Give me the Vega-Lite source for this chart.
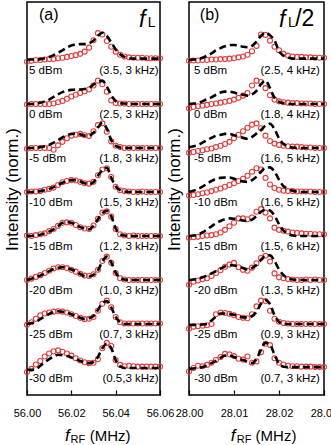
{
"$schema":"https://vega.github.io/schema/vega-lite/v6.json",
"padding":{"left":2,"top":1,"right":0,"bottom":0},
"background":"white",
"bounds":"flush",
"spacing":29,
"config":{
 "font":"Liberation Sans",
 "view":{"stroke":"black","strokeWidth":1.5},
 "axis":{"grid":false,"domain":false,"labelColor":"black","titleColor":"black","tickColor":"black"},
 "axisX":{"tickSize":-5,"tickWidth":1.2,"labelFontSize":11,"labelPadding":17,"labelFlush":false,"labelOverlap":false},
 "axisY":{"ticks":false,"labels":false,"titleFontSize":17,"titleFontWeight":"normal","titlePadding":6,"titleY":187}
},
"datasets":{
"a":[
{"t":1,"x":56,"d":6.96,"f":7.01},{"t":1,"x":56.002,"d":6.98,"f":7.01},{"t":1,"x":56.004,"d":7,"f":7.01},{"t":1,"x":56.006,"d":7,"f":7.02},{"t":1,"x":56.008,"d":7.01,"f":7.04},{"t":1,"x":56.01,"d":7.02,"f":7.07},{"t":1,"x":56.012,"d":7.02,"f":7.11},{"t":1,"x":56.014,"d":7.04,"f":7.16},{"t":1,"x":56.016,"d":7.05,"f":7.22},{"t":1,"x":56.018,"d":7.07,"f":7.28},{"t":1,"x":56.02,"d":7.09,"f":7.33},{"t":1,"x":56.022,"d":7.11,"f":7.35},{"t":1,"x":56.024,"d":7.14,"f":7.36},{"t":1,"x":56.026,"d":7.19,"f":7.36},{"t":1,"x":56.028,"d":7.28,"f":7.38},{"t":1,"x":56.03,"d":7.45,"f":7.44},{"t":1,"x":56.032,"d":7.61,"f":7.55},{"t":1,"x":56.034,"d":7.58,"f":7.62},{"t":1,"x":56.036,"d":7.43,"f":7.55},{"t":1,"x":56.038,"d":7.3,"f":7.4},{"t":1,"x":56.04,"d":7.19,"f":7.24},{"t":1,"x":56.042,"d":7.12,"f":7.13},{"t":1,"x":56.044,"d":7.08,"f":7.07},{"t":1,"x":56.046,"d":7.06,"f":7.04},{"t":1,"x":56.048,"d":7.05,"f":7.03},{"t":1,"x":56.05,"d":7.05,"f":7.03},{"t":1,"x":56.052,"d":7.05,"f":7.03},{"t":1,"x":56.054,"d":7.04,"f":7.03},{"t":1,"x":56.056,"d":7.04,"f":7.03},{"t":1,"x":56.058,"d":7.04,"f":7.03},{"t":1,"x":56.06,"d":7.04,"f":7.03},
{"t":2,"x":56,"d":5.99,"f":6},{"t":2,"x":56.002,"d":6,"f":6},{"t":2,"x":56.004,"d":6,"f":6.01},{"t":2,"x":56.006,"d":6,"f":6.03},{"t":2,"x":56.008,"d":6,"f":6.06},{"t":2,"x":56.01,"d":6,"f":6.1},{"t":2,"x":56.012,"d":6.01,"f":6.16},{"t":2,"x":56.014,"d":6.04,"f":6.22},{"t":2,"x":56.016,"d":6.07,"f":6.27},{"t":2,"x":56.018,"d":6.12,"f":6.3},{"t":2,"x":56.02,"d":6.17,"f":6.32},{"t":2,"x":56.022,"d":6.21,"f":6.33},{"t":2,"x":56.024,"d":6.25,"f":6.33},{"t":2,"x":56.026,"d":6.29,"f":6.34},{"t":2,"x":56.028,"d":6.33,"f":6.37},{"t":2,"x":56.03,"d":6.42,"f":6.44},{"t":2,"x":56.032,"d":6.53,"f":6.5},{"t":2,"x":56.034,"d":6.45,"f":6.53},{"t":2,"x":56.036,"d":6.28,"f":6.4},{"t":2,"x":56.038,"d":6.08,"f":6.2},{"t":2,"x":56.04,"d":6.02,"f":6.07},{"t":2,"x":56.042,"d":6.01,"f":6.02},{"t":2,"x":56.044,"d":6.01,"f":6.01},{"t":2,"x":56.046,"d":6,"f":6},{"t":2,"x":56.048,"d":6,"f":6},{"t":2,"x":56.05,"d":6,"f":6},{"t":2,"x":56.052,"d":6,"f":6},{"t":2,"x":56.054,"d":6,"f":6},{"t":2,"x":56.056,"d":6,"f":6},{"t":2,"x":56.058,"d":6,"f":6},{"t":2,"x":56.06,"d":6,"f":6},
{"t":3,"x":56,"d":4.98,"f":5},{"t":3,"x":56.002,"d":5,"f":5},{"t":3,"x":56.004,"d":5,"f":5.01},{"t":3,"x":56.006,"d":5,"f":5.02},{"t":3,"x":56.008,"d":5,"f":5.04},{"t":3,"x":56.01,"d":5,"f":5.07},{"t":3,"x":56.012,"d":4.96,"f":5.12},{"t":3,"x":56.014,"d":5.06,"f":5.18},{"t":3,"x":56.016,"d":5.14,"f":5.24},{"t":3,"x":56.018,"d":5.22,"f":5.29},{"t":3,"x":56.02,"d":5.28,"f":5.32},{"t":3,"x":56.022,"d":5.3,"f":5.33},{"t":3,"x":56.024,"d":5.32,"f":5.31},{"t":3,"x":56.026,"d":5.29,"f":5.28},{"t":3,"x":56.028,"d":5.27,"f":5.28},{"t":3,"x":56.03,"d":5.38,"f":5.35},{"t":3,"x":56.032,"d":5.52,"f":5.47},{"t":3,"x":56.034,"d":5.56,"f":5.57},{"t":3,"x":56.036,"d":5.37,"f":5.44},{"t":3,"x":56.038,"d":5.15,"f":5.18},{"t":3,"x":56.04,"d":5.05,"f":5.05},{"t":3,"x":56.042,"d":5.02,"f":5.01},{"t":3,"x":56.044,"d":5,"f":5},{"t":3,"x":56.046,"d":5,"f":5},{"t":3,"x":56.048,"d":5,"f":5},{"t":3,"x":56.05,"d":5,"f":5},{"t":3,"x":56.052,"d":5,"f":5},{"t":3,"x":56.054,"d":5,"f":5},{"t":3,"x":56.056,"d":5,"f":5},{"t":3,"x":56.058,"d":5,"f":5},{"t":3,"x":56.06,"d":5,"f":5},
{"t":4,"x":56,"d":4,"f":4},{"t":4,"x":56.002,"d":4.01,"f":4},{"t":4,"x":56.004,"d":4.01,"f":4.01},{"t":4,"x":56.006,"d":4.02,"f":4.02},{"t":4,"x":56.008,"d":4.05,"f":4.04},{"t":4,"x":56.01,"d":4.07,"f":4.07},{"t":4,"x":56.012,"d":4.1,"f":4.11},{"t":4,"x":56.014,"d":4.16,"f":4.16},{"t":4,"x":56.016,"d":4.22,"f":4.21},{"t":4,"x":56.018,"d":4.25,"f":4.25},{"t":4,"x":56.02,"d":4.27,"f":4.27},{"t":4,"x":56.022,"d":4.26,"f":4.27},{"t":4,"x":56.024,"d":4.23,"f":4.24},{"t":4,"x":56.026,"d":4.2,"f":4.2},{"t":4,"x":56.028,"d":4.19,"f":4.18},{"t":4,"x":56.03,"d":4.23,"f":4.22},{"t":4,"x":56.032,"d":4.38,"f":4.37},{"t":4,"x":56.034,"d":4.51,"f":4.5},{"t":4,"x":56.036,"d":4.54,"f":4.55},{"t":4,"x":56.038,"d":4.34,"f":4.33},{"t":4,"x":56.04,"d":4.12,"f":4.13},{"t":4,"x":56.042,"d":4.04,"f":4.04},{"t":4,"x":56.044,"d":4.02,"f":4.01},{"t":4,"x":56.046,"d":4.01,"f":4},{"t":4,"x":56.048,"d":4,"f":4},{"t":4,"x":56.05,"d":4,"f":4},{"t":4,"x":56.052,"d":4.01,"f":4},{"t":4,"x":56.054,"d":4,"f":4},{"t":4,"x":56.056,"d":4,"f":4},{"t":4,"x":56.058,"d":4,"f":4},{"t":4,"x":56.06,"d":4,"f":4},
{"t":5,"x":56,"d":3.01,"f":3},{"t":5,"x":56.002,"d":3,"f":3},{"t":5,"x":56.004,"d":3.02,"f":3.02},{"t":5,"x":56.006,"d":3.04,"f":3.03},{"t":5,"x":56.008,"d":3.06,"f":3.06},{"t":5,"x":56.01,"d":3.11,"f":3.1},{"t":5,"x":56.012,"d":3.16,"f":3.15},{"t":5,"x":56.014,"d":3.23,"f":3.22},{"t":5,"x":56.016,"d":3.3,"f":3.3},{"t":5,"x":56.018,"d":3.31,"f":3.32},{"t":5,"x":56.02,"d":3.3,"f":3.3},{"t":5,"x":56.022,"d":3.25,"f":3.26},{"t":5,"x":56.024,"d":3.2,"f":3.2},{"t":5,"x":56.026,"d":3.17,"f":3.17},{"t":5,"x":56.028,"d":3.16,"f":3.15},{"t":5,"x":56.03,"d":3.24,"f":3.23},{"t":5,"x":56.032,"d":3.39,"f":3.38},{"t":5,"x":56.034,"d":3.53,"f":3.52},{"t":5,"x":56.036,"d":3.56,"f":3.57},{"t":5,"x":56.038,"d":3.44,"f":3.45},{"t":5,"x":56.04,"d":3.16,"f":3.17},{"t":5,"x":56.042,"d":3.04,"f":3.04},{"t":5,"x":56.044,"d":3.01,"f":3.01},{"t":5,"x":56.046,"d":3,"f":3},{"t":5,"x":56.048,"d":3.01,"f":3},{"t":5,"x":56.05,"d":3,"f":3},{"t":5,"x":56.052,"d":3,"f":3},{"t":5,"x":56.054,"d":3,"f":3},{"t":5,"x":56.056,"d":3,"f":3},{"t":5,"x":56.058,"d":3,"f":3},{"t":5,"x":56.06,"d":3,"f":3},
{"t":6,"x":56,"d":2,"f":2},{"t":6,"x":56.002,"d":2.03,"f":2.03},{"t":6,"x":56.004,"d":2.07,"f":2.06},{"t":6,"x":56.006,"d":2.11,"f":2.1},{"t":6,"x":56.008,"d":2.16,"f":2.15},{"t":6,"x":56.01,"d":2.21,"f":2.2},{"t":6,"x":56.012,"d":2.26,"f":2.25},{"t":6,"x":56.014,"d":2.29,"f":2.28},{"t":6,"x":56.016,"d":2.29,"f":2.29},{"t":6,"x":56.018,"d":2.27,"f":2.27},{"t":6,"x":56.02,"d":2.23,"f":2.24},{"t":6,"x":56.022,"d":2.19,"f":2.2},{"t":6,"x":56.024,"d":2.14,"f":2.14},{"t":6,"x":56.026,"d":2.1,"f":2.09},{"t":6,"x":56.028,"d":2.09,"f":2.08},{"t":6,"x":56.03,"d":2.13,"f":2.12},{"t":6,"x":56.032,"d":2.23,"f":2.22},{"t":6,"x":56.034,"d":2.43,"f":2.42},{"t":6,"x":56.036,"d":2.53,"f":2.53},{"t":6,"x":56.038,"d":2.39,"f":2.4},{"t":6,"x":56.04,"d":2.16,"f":2.17},{"t":6,"x":56.042,"d":2.04,"f":2.04},{"t":6,"x":56.044,"d":2.01,"f":2.01},{"t":6,"x":56.046,"d":2,"f":2},{"t":6,"x":56.048,"d":2,"f":2},{"t":6,"x":56.05,"d":2,"f":2},{"t":6,"x":56.052,"d":2,"f":2},{"t":6,"x":56.054,"d":2,"f":2},{"t":6,"x":56.056,"d":2,"f":2},{"t":6,"x":56.058,"d":2,"f":2},{"t":6,"x":56.06,"d":2,"f":2},
{"t":7,"x":56,"d":0.98,"f":1},{"t":7,"x":56.002,"d":1.04,"f":1.02},{"t":7,"x":56.004,"d":1.12,"f":1.05},{"t":7,"x":56.006,"d":1.2,"f":1.11},{"t":7,"x":56.008,"d":1.24,"f":1.17},{"t":7,"x":56.01,"d":1.26,"f":1.23},{"t":7,"x":56.012,"d":1.28,"f":1.27},{"t":7,"x":56.014,"d":1.29,"f":1.29},{"t":7,"x":56.016,"d":1.28,"f":1.28},{"t":7,"x":56.018,"d":1.26,"f":1.26},{"t":7,"x":56.02,"d":1.22,"f":1.22},{"t":7,"x":56.022,"d":1.18,"f":1.18},{"t":7,"x":56.024,"d":1.14,"f":1.14},{"t":7,"x":56.026,"d":1.11,"f":1.11},{"t":7,"x":56.028,"d":1.12,"f":1.13},{"t":7,"x":56.03,"d":1.16,"f":1.18},{"t":7,"x":56.032,"d":1.3,"f":1.32},{"t":7,"x":56.034,"d":1.46,"f":1.47},{"t":7,"x":56.036,"d":1.53,"f":1.52},{"t":7,"x":56.038,"d":1.38,"f":1.38},{"t":7,"x":56.04,"d":1.16,"f":1.16},{"t":7,"x":56.042,"d":1.04,"f":1.04},{"t":7,"x":56.044,"d":1.01,"f":1},{"t":7,"x":56.046,"d":1.01,"f":1},{"t":7,"x":56.048,"d":1.01,"f":1},{"t":7,"x":56.05,"d":1.01,"f":1},{"t":7,"x":56.052,"d":1.01,"f":1},{"t":7,"x":56.054,"d":1.01,"f":1},{"t":7,"x":56.056,"d":1.01,"f":1},{"t":7,"x":56.058,"d":1.01,"f":1},{"t":7,"x":56.06,"d":1.01,"f":1},
{"t":8,"x":56,"d":-0.09,"f":-0.04},{"t":8,"x":56.002,"d":-0.02,"f":-0.04},{"t":8,"x":56.004,"d":0.08,"f":-0.03},{"t":8,"x":56.006,"d":0.16,"f":0.05},{"t":8,"x":56.008,"d":0.26,"f":0.13},{"t":8,"x":56.01,"d":0.33,"f":0.2},{"t":8,"x":56.012,"d":0.38,"f":0.26},{"t":8,"x":56.014,"d":0.4,"f":0.3},{"t":8,"x":56.016,"d":0.37,"f":0.29},{"t":8,"x":56.018,"d":0.33,"f":0.27},{"t":8,"x":56.02,"d":0.28,"f":0.24},{"t":8,"x":56.022,"d":0.22,"f":0.2},{"t":8,"x":56.024,"d":0.17,"f":0.16},{"t":8,"x":56.026,"d":0.13,"f":0.13},{"t":8,"x":56.028,"d":0.11,"f":0.11},{"t":8,"x":56.03,"d":0.12,"f":0.14},{"t":8,"x":56.032,"d":0.2,"f":0.25},{"t":8,"x":56.034,"d":0.45,"f":0.45},{"t":8,"x":56.036,"d":0.57,"f":0.55},{"t":8,"x":56.038,"d":0.5,"f":0.45},{"t":8,"x":56.04,"d":0.18,"f":0.18},{"t":8,"x":56.042,"d":0.07,"f":0.04},{"t":8,"x":56.044,"d":0.04,"f":0},{"t":8,"x":56.046,"d":0.05,"f":0},{"t":8,"x":56.048,"d":0.04,"f":0},{"t":8,"x":56.05,"d":0.03,"f":0},{"t":8,"x":56.052,"d":0.03,"f":0},{"t":8,"x":56.054,"d":0.03,"f":0},{"t":8,"x":56.056,"d":0.03,"f":0},{"t":8,"x":56.058,"d":0.03,"f":0},{"t":8,"x":56.06,"d":0.03,"f":0}
],
"b":[
{"t":1,"x":28,"d":6.98,"f":7},{"t":1,"x":28.001,"d":6.99,"f":7.01},{"t":1,"x":28.002,"d":6.99,"f":7.02},{"t":1,"x":28.003,"d":7,"f":7.05},{"t":1,"x":28.004,"d":7,"f":7.1},{"t":1,"x":28.005,"d":7.01,"f":7.15},{"t":1,"x":28.006,"d":7.01,"f":7.22},{"t":1,"x":28.007,"d":7.02,"f":7.27},{"t":1,"x":28.008,"d":7.02,"f":7.31},{"t":1,"x":28.009,"d":7.03,"f":7.34},{"t":1,"x":28.01,"d":7.04,"f":7.34},{"t":1,"x":28.011,"d":7.06,"f":7.33},{"t":1,"x":28.012,"d":7.08,"f":7.3},{"t":1,"x":28.013,"d":7.12,"f":7.29},{"t":1,"x":28.014,"d":7.2,"f":7.32},{"t":1,"x":28.015,"d":7.32,"f":7.42},{"t":1,"x":28.016,"d":7.58,"f":7.55},{"t":1,"x":28.017,"d":7.57,"f":7.62},{"t":1,"x":28.018,"d":7.44,"f":7.56},{"t":1,"x":28.019,"d":7.3,"f":7.45},{"t":1,"x":28.02,"d":7.22,"f":7.2},{"t":1,"x":28.021,"d":7.14,"f":7.1},{"t":1,"x":28.022,"d":7.1,"f":7.06},{"t":1,"x":28.023,"d":7.08,"f":7.03},{"t":1,"x":28.024,"d":7.07,"f":7.03},{"t":1,"x":28.025,"d":7.07,"f":7.03},{"t":1,"x":28.026,"d":7.06,"f":7.03},{"t":1,"x":28.027,"d":7.06,"f":7.03},{"t":1,"x":28.028,"d":7.05,"f":7.03},{"t":1,"x":28.029,"d":7.05,"f":7.03},{"t":1,"x":28.03,"d":7.05,"f":7.03},
{"t":2,"x":28,"d":5.9,"f":6},{"t":2,"x":28.001,"d":5.93,"f":6.01},{"t":2,"x":28.002,"d":5.95,"f":6.02},{"t":2,"x":28.003,"d":5.96,"f":6.06},{"t":2,"x":28.004,"d":5.98,"f":6.11},{"t":2,"x":28.005,"d":6,"f":6.15},{"t":2,"x":28.006,"d":6.01,"f":6.21},{"t":2,"x":28.007,"d":6.03,"f":6.26},{"t":2,"x":28.008,"d":6.05,"f":6.28},{"t":2,"x":28.009,"d":6.07,"f":6.28},{"t":2,"x":28.01,"d":6.1,"f":6.26},{"t":2,"x":28.011,"d":6.14,"f":6.23},{"t":2,"x":28.012,"d":6.19,"f":6.21},{"t":2,"x":28.013,"d":6.25,"f":6.19},{"t":2,"x":28.014,"d":6.42,"f":6.22},{"t":2,"x":28.015,"d":6.53,"f":6.3},{"t":2,"x":28.016,"d":6.5,"f":6.45},{"t":2,"x":28.017,"d":6.36,"f":6.53},{"t":2,"x":28.018,"d":6.2,"f":6.36},{"t":2,"x":28.019,"d":6.1,"f":6.14},{"t":2,"x":28.02,"d":6.06,"f":6.05},{"t":2,"x":28.021,"d":6.04,"f":6.02},{"t":2,"x":28.022,"d":6.03,"f":6},{"t":2,"x":28.023,"d":6.02,"f":6},{"t":2,"x":28.024,"d":6.02,"f":6},{"t":2,"x":28.025,"d":6.01,"f":6},{"t":2,"x":28.026,"d":6.01,"f":6},{"t":2,"x":28.027,"d":6.01,"f":6},{"t":2,"x":28.028,"d":6,"f":6},{"t":2,"x":28.029,"d":6,"f":6},{"t":2,"x":28.03,"d":6,"f":6},
{"t":3,"x":28,"d":4.89,"f":5.02},{"t":3,"x":28.001,"d":4.91,"f":5.04},{"t":3,"x":28.002,"d":4.93,"f":5.07},{"t":3,"x":28.003,"d":4.95,"f":5.12},{"t":3,"x":28.004,"d":4.97,"f":5.18},{"t":3,"x":28.005,"d":4.99,"f":5.23},{"t":3,"x":28.006,"d":5.02,"f":5.28},{"t":3,"x":28.007,"d":5.05,"f":5.3},{"t":3,"x":28.008,"d":5.09,"f":5.32},{"t":3,"x":28.009,"d":5.14,"f":5.32},{"t":3,"x":28.01,"d":5.22,"f":5.29},{"t":3,"x":28.011,"d":5.3,"f":5.26},{"t":3,"x":28.012,"d":5.38,"f":5.23},{"t":3,"x":28.013,"d":5.46,"f":5.21},{"t":3,"x":28.014,"d":5.53,"f":5.25},{"t":3,"x":28.015,"d":5.56,"f":5.33},{"t":3,"x":28.016,"d":5.45,"f":5.41},{"t":3,"x":28.017,"d":5.28,"f":5.51},{"t":3,"x":28.018,"d":5.16,"f":5.55},{"t":3,"x":28.019,"d":5.1,"f":5.43},{"t":3,"x":28.02,"d":5.07,"f":5.22},{"t":3,"x":28.021,"d":5.05,"f":5.09},{"t":3,"x":28.022,"d":5.04,"f":5.04},{"t":3,"x":28.023,"d":5.03,"f":5.01},{"t":3,"x":28.024,"d":5.03,"f":5},{"t":3,"x":28.025,"d":5.02,"f":5},{"t":3,"x":28.026,"d":5.01,"f":5},{"t":3,"x":28.027,"d":5.01,"f":5},{"t":3,"x":28.028,"d":5,"f":5},{"t":3,"x":28.029,"d":5,"f":5},{"t":3,"x":28.03,"d":5,"f":5},
{"t":4,"x":28,"d":3.92,"f":4},{"t":4,"x":28.001,"d":3.93,"f":4.03},{"t":4,"x":28.002,"d":3.95,"f":4.07},{"t":4,"x":28.003,"d":3.97,"f":4.12},{"t":4,"x":28.004,"d":3.99,"f":4.19},{"t":4,"x":28.005,"d":4.02,"f":4.25},{"t":4,"x":28.006,"d":4.05,"f":4.3},{"t":4,"x":28.007,"d":4.08,"f":4.32},{"t":4,"x":28.008,"d":4.12,"f":4.33},{"t":4,"x":28.009,"d":4.16,"f":4.33},{"t":4,"x":28.01,"d":4.2,"f":4.3},{"t":4,"x":28.011,"d":4.25,"f":4.27},{"t":4,"x":28.012,"d":4.3,"f":4.24},{"t":4,"x":28.013,"d":4.37,"f":4.23},{"t":4,"x":28.014,"d":4.46,"f":4.27},{"t":4,"x":28.015,"d":4.54,"f":4.35},{"t":4,"x":28.016,"d":4.51,"f":4.46},{"t":4,"x":28.017,"d":4.32,"f":4.55},{"t":4,"x":28.018,"d":4.17,"f":4.56},{"t":4,"x":28.019,"d":4.09,"f":4.46},{"t":4,"x":28.02,"d":4.05,"f":4.28},{"t":4,"x":28.021,"d":4.03,"f":4.13},{"t":4,"x":28.022,"d":4.02,"f":4.08},{"t":4,"x":28.023,"d":4.02,"f":4.03},{"t":4,"x":28.024,"d":4.01,"f":4.01},{"t":4,"x":28.025,"d":4.01,"f":4},{"t":4,"x":28.026,"d":4.01,"f":4},{"t":4,"x":28.027,"d":4.01,"f":4},{"t":4,"x":28.028,"d":4,"f":4},{"t":4,"x":28.029,"d":4,"f":4},{"t":4,"x":28.03,"d":4,"f":4},
{"t":5,"x":28,"d":2.96,"f":3},{"t":5,"x":28.001,"d":2.97,"f":3.01},{"t":5,"x":28.002,"d":2.98,"f":3.03},{"t":5,"x":28.003,"d":3,"f":3.08},{"t":5,"x":28.004,"d":3.01,"f":3.15},{"t":5,"x":28.005,"d":3.02,"f":3.22},{"t":5,"x":28.006,"d":3.04,"f":3.29},{"t":5,"x":28.007,"d":3.08,"f":3.34},{"t":5,"x":28.008,"d":3.14,"f":3.38},{"t":5,"x":28.009,"d":3.22,"f":3.4},{"t":5,"x":28.01,"d":3.3,"f":3.39},{"t":5,"x":28.011,"d":3.4,"f":3.37},{"t":5,"x":28.012,"d":3.4,"f":3.35},{"t":5,"x":28.013,"d":3.38,"f":3.34},{"t":5,"x":28.014,"d":3.42,"f":3.37},{"t":5,"x":28.015,"d":3.55,"f":3.45},{"t":5,"x":28.016,"d":3.61,"f":3.55},{"t":5,"x":28.017,"d":3.53,"f":3.6},{"t":5,"x":28.018,"d":3.4,"f":3.58},{"t":5,"x":28.019,"d":3.19,"f":3.46},{"t":5,"x":28.02,"d":3.14,"f":3.27},{"t":5,"x":28.021,"d":3.12,"f":3.12},{"t":5,"x":28.022,"d":3.1,"f":3.05},{"t":5,"x":28.023,"d":3.08,"f":3.01},{"t":5,"x":28.024,"d":3.07,"f":3},{"t":5,"x":28.025,"d":3.06,"f":3},{"t":5,"x":28.026,"d":3.05,"f":3},{"t":5,"x":28.027,"d":3.05,"f":3},{"t":5,"x":28.028,"d":3.04,"f":3},{"t":5,"x":28.029,"d":3.04,"f":3},{"t":5,"x":28.03,"d":3.04,"f":3},
{"t":6,"x":28,"d":1.89,"f":2},{"t":6,"x":28.001,"d":1.96,"f":2.01},{"t":6,"x":28.002,"d":1.99,"f":2.03},{"t":6,"x":28.003,"d":2.02,"f":2.06},{"t":6,"x":28.004,"d":2.04,"f":2.1},{"t":6,"x":28.005,"d":2.09,"f":2.15},{"t":6,"x":28.006,"d":2.16,"f":2.2},{"t":6,"x":28.007,"d":2.22,"f":2.26},{"t":6,"x":28.008,"d":2.3,"f":2.31},{"t":6,"x":28.009,"d":2.35,"f":2.34},{"t":6,"x":28.01,"d":2.39,"f":2.33},{"t":6,"x":28.011,"d":2.29,"f":2.31},{"t":6,"x":28.012,"d":2.23,"f":2.27},{"t":6,"x":28.013,"d":2.21,"f":2.24},{"t":6,"x":28.014,"d":2.28,"f":2.27},{"t":6,"x":28.015,"d":2.38,"f":2.34},{"t":6,"x":28.016,"d":2.5,"f":2.46},{"t":6,"x":28.017,"d":2.55,"f":2.55},{"t":6,"x":28.018,"d":2.42,"f":2.56},{"t":6,"x":28.019,"d":2.15,"f":2.43},{"t":6,"x":28.02,"d":2.06,"f":2.24},{"t":6,"x":28.021,"d":2.04,"f":2.11},{"t":6,"x":28.022,"d":2.02,"f":2.04},{"t":6,"x":28.023,"d":2.01,"f":2.01},{"t":6,"x":28.024,"d":2,"f":2},{"t":6,"x":28.025,"d":2,"f":2},{"t":6,"x":28.026,"d":2.01,"f":2},{"t":6,"x":28.027,"d":2,"f":2},{"t":6,"x":28.028,"d":2.01,"f":2},{"t":6,"x":28.029,"d":2,"f":2},{"t":6,"x":28.03,"d":2,"f":2},
{"t":7,"x":28,"d":0.89,"f":0.98},{"t":7,"x":28.001,"d":0.94,"f":0.98},{"t":7,"x":28.002,"d":0.95,"f":0.98},{"t":7,"x":28.003,"d":0.96,"f":0.99},{"t":7,"x":28.004,"d":0.97,"f":1},{"t":7,"x":28.005,"d":1,"f":1.08},{"t":7,"x":28.006,"d":1.22,"f":1.17},{"t":7,"x":28.007,"d":1.26,"f":1.24},{"t":7,"x":28.008,"d":1.25,"f":1.24},{"t":7,"x":28.009,"d":1.23,"f":1.23},{"t":7,"x":28.01,"d":1.2,"f":1.21},{"t":7,"x":28.011,"d":1.16,"f":1.18},{"t":7,"x":28.012,"d":1.14,"f":1.15},{"t":7,"x":28.013,"d":1.13,"f":1.15},{"t":7,"x":28.014,"d":1.22,"f":1.18},{"t":7,"x":28.015,"d":1.4,"f":1.28},{"t":7,"x":28.016,"d":1.53,"f":1.46},{"t":7,"x":28.017,"d":1.52,"f":1.54},{"t":7,"x":28.018,"d":1.3,"f":1.45},{"t":7,"x":28.019,"d":1.12,"f":1.2},{"t":7,"x":28.02,"d":1.05,"f":1.05},{"t":7,"x":28.021,"d":1.02,"f":1},{"t":7,"x":28.022,"d":1.01,"f":1},{"t":7,"x":28.023,"d":1,"f":1},{"t":7,"x":28.024,"d":1,"f":1},{"t":7,"x":28.025,"d":1,"f":1},{"t":7,"x":28.026,"d":1,"f":1},{"t":7,"x":28.027,"d":1,"f":1},{"t":7,"x":28.028,"d":1,"f":1},{"t":7,"x":28.029,"d":1,"f":1},{"t":7,"x":28.03,"d":1,"f":1},
{"t":8,"x":28,"d":-0.08,"f":-0.02},{"t":8,"x":28.001,"d":0,"f":-0.01},{"t":8,"x":28.002,"d":0.05,"f":0},{"t":8,"x":28.003,"d":0.04,"f":0.02},{"t":8,"x":28.004,"d":0.07,"f":0.06},{"t":8,"x":28.005,"d":0.12,"f":0.11},{"t":8,"x":28.006,"d":0.18,"f":0.16},{"t":8,"x":28.007,"d":0.25,"f":0.23},{"t":8,"x":28.008,"d":0.32,"f":0.28},{"t":8,"x":28.009,"d":0.31,"f":0.28},{"t":8,"x":28.01,"d":0.27,"f":0.25},{"t":8,"x":28.011,"d":0.21,"f":0.21},{"t":8,"x":28.012,"d":0.19,"f":0.18},{"t":8,"x":28.013,"d":0.26,"f":0.14},{"t":8,"x":28.014,"d":0.12,"f":0.11},{"t":8,"x":28.015,"d":0.15,"f":0.2},{"t":8,"x":28.016,"d":0.36,"f":0.42},{"t":8,"x":28.017,"d":0.55,"f":0.57},{"t":8,"x":28.018,"d":0.52,"f":0.53},{"t":8,"x":28.019,"d":0.22,"f":0.3},{"t":8,"x":28.02,"d":0.12,"f":0.1},{"t":8,"x":28.021,"d":0.08,"f":0.03},{"t":8,"x":28.022,"d":0.05,"f":0.02},{"t":8,"x":28.023,"d":0.04,"f":0.02},{"t":8,"x":28.024,"d":0.04,"f":0.02},{"t":8,"x":28.025,"d":0.03,"f":0.02},{"t":8,"x":28.026,"d":0.03,"f":0.02},{"t":8,"x":28.027,"d":0.03,"f":0.02},{"t":8,"x":28.028,"d":0.02,"f":0.02},{"t":8,"x":28.029,"d":0.02,"f":0.02},{"t":8,"x":28.03,"d":0.02,"f":0.02}
],
"la":[{"o":7,"l":"5 dBm","r":"(3.5, 3 kHz)"},{"o":6,"l":"0 dBm","r":"(2.5, 3 kHz)"},{"o":5,"l":"-5 dBm","r":"(1.8, 3 kHz)"},{"o":4,"l":"-10 dBm","r":"(1.5, 3 kHz)"},{"o":3,"l":"-15 dBm","r":"(1.2, 3 kHz)"},{"o":2,"l":"-20 dBm","r":"(1.0, 3 kHz)"},{"o":1,"l":"-25 dBm","r":"(0.7, 3 kHz)"},{"o":0,"l":"-30 dBm","r":"(0.5,3 kHz)"}],
"lb":[{"o":7,"l":"5 dBm","r":"(2.5, 4 kHz)"},{"o":6,"l":"0 dBm","r":"(1.8, 4 kHz)"},{"o":5,"l":"-5 dBm","r":"(1.6, 5 kHz)"},{"o":4,"l":"-10 dBm","r":"(1.6, 5 kHz)"},{"o":3,"l":"-15 dBm","r":"(1.5, 6 kHz)"},{"o":2,"l":"-20 dBm","r":"(1.3, 5 kHz)"},{"o":1,"l":"-25 dBm","r":"(0.9, 3 kHz)"},{"o":0,"l":"-30 dBm","r":"(0.7, 3 kHz)"}]
},
"hconcat":[
{"width":133,"height":393,
 "layer":[
  {"data":{"name":"a"},"mark":{"type":"point","shape":"circle","filled":false,"color":"#e23c3c","size":25,"strokeWidth":1.1,"opacity":1},
   "encoding":{"x":{"field":"x","type":"quantitative","title":null,"scale":{"domain":[56,56.06],"nice":false,"zero":false},"axis":{"values":[56,56.01,56.02,56.03,56.04,56.05,56.06],"labelExpr":"round(datum.value*100)%2==0 ? format(datum.value,'.2f') : ''"}},
    "y":{"field":"d","type":"quantitative","title":"Intensity (norm.)","scale":{"domain":[-0.614,8.318],"nice":false,"zero":false}}}},
  {"data":{"name":"a"},"mark":{"type":"line","color":"black","strokeWidth":2.6,"strokeDash":[7,4],"interpolate":"monotone"},
   "encoding":{"x":{"field":"x","type":"quantitative","title":null},"y":{"field":"f","type":"quantitative","title":"Intensity (norm.)"},"detail":{"field":"t","type":"nominal"}}},
  {"data":{"name":"la"},"mark":{"type":"text","align":"left","baseline":"middle","dy":11,"fontSize":11.5},
   "encoding":{"x":{"datum":56.0009,"title":null},"y":{"field":"o","type":"quantitative","title":"Intensity (norm.)"},"text":{"field":"l"}}},
  {"data":{"name":"la"},"mark":{"type":"text","align":"right","baseline":"middle","dy":11,"fontSize":11.5},
   "encoding":{"x":{"datum":56.0594,"title":null},"y":{"field":"o","type":"quantitative","title":"Intensity (norm.)"},"text":{"field":"r"}}},
  {"data":{"values":[{}]},"mark":{"type":"text","text":"(a)","fontSize":16,"align":"left","baseline":"middle"},
   "encoding":{"x":{"datum":56.0054,"title":null},"y":{"datum":8.02,"title":"Intensity (norm.)"}}},
  {"data":{"values":[{}]},"mark":{"type":"text","text":"f","fontSize":23,"fontStyle":"italic","align":"left","baseline":"alphabetic"},
   "encoding":{"x":{"datum":56.0505,"title":null},"y":{"datum":7.75,"title":"Intensity (norm.)"}}},
  {"data":{"values":[{}]},"mark":{"type":"text","text":"L","fontSize":14,"align":"left","baseline":"alphabetic"},
   "encoding":{"x":{"datum":56.0545,"title":null},"y":{"datum":7.76,"title":"Intensity (norm.)"}}},
  {"data":{"values":[{}]},"mark":{"type":"text","text":"f","fontSize":17,"fontStyle":"italic","align":"left","baseline":"alphabetic"},
   "encoding":{"x":{"datum":56.0171,"title":null},"y":{"datum":-1.659,"title":"Intensity (norm.)"}}},
  {"data":{"values":[{}]},"mark":{"type":"text","text":"RF","fontSize":11,"align":"left","baseline":"alphabetic"},
   "encoding":{"x":{"datum":56.0196,"title":null},"y":{"datum":-1.716,"title":"Intensity (norm.)"}}},
  {"data":{"values":[{}]},"mark":{"type":"text","text":"(MHz)","fontSize":15,"align":"left","baseline":"alphabetic"},
   "encoding":{"x":{"datum":56.0283,"title":null},"y":{"datum":-1.659,"title":"Intensity (norm.)"}}}
 ]},
{"width":135,"height":393,
 "layer":[
  {"data":{"name":"b"},"mark":{"type":"point","shape":"circle","filled":false,"color":"#e23c3c","size":25,"strokeWidth":1.1,"opacity":1},
   "encoding":{"x":{"field":"x","type":"quantitative","title":null,"scale":{"domain":[28,28.03],"nice":false,"zero":false},"axis":{"values":[28,28.005,28.01,28.015,28.02,28.025,28.03],"labelExpr":"round(datum.value*1000)%10==0 ? format(datum.value,'.2f') : ''"}},
    "y":{"field":"d","type":"quantitative","title":"Intensity (norm.)","scale":{"domain":[-0.614,8.318],"nice":false,"zero":false}}}},
  {"data":{"name":"b"},"mark":{"type":"line","color":"black","strokeWidth":2.6,"strokeDash":[7,4],"interpolate":"monotone"},
   "encoding":{"x":{"field":"x","type":"quantitative","title":null},"y":{"field":"f","type":"quantitative","title":"Intensity (norm.)"},"detail":{"field":"t","type":"nominal"}}},
  {"data":{"name":"lb"},"mark":{"type":"text","align":"left","baseline":"middle","dy":11,"fontSize":11.5},
   "encoding":{"x":{"datum":28.0011,"title":null},"y":{"field":"o","type":"quantitative","title":"Intensity (norm.)"},"text":{"field":"l"}}},
  {"data":{"name":"lb"},"mark":{"type":"text","align":"right","baseline":"middle","dy":11,"fontSize":11.5},
   "encoding":{"x":{"datum":28.0291,"title":null},"y":{"field":"o","type":"quantitative","title":"Intensity (norm.)"},"text":{"field":"r"}}},
  {"data":{"values":[{}]},"mark":{"type":"text","text":"(b)","fontSize":16,"align":"left","baseline":"middle"},
   "encoding":{"x":{"datum":28.0024,"title":null},"y":{"datum":8.02,"title":"Intensity (norm.)"}}},
  {"data":{"values":[{}]},"mark":{"type":"text","text":"f","fontSize":23,"fontStyle":"italic","align":"left","baseline":"alphabetic"},
   "encoding":{"x":{"datum":28.02,"title":null},"y":{"datum":7.75,"title":"Intensity (norm.)"}}},
  {"data":{"values":[{}]},"mark":{"type":"text","text":"L","fontSize":14,"align":"left","baseline":"alphabetic"},
   "encoding":{"x":{"datum":28.022,"title":null},"y":{"datum":7.76,"title":"Intensity (norm.)"}}},
  {"data":{"values":[{}]},"mark":{"type":"text","text":"/2","fontSize":23,"align":"left","baseline":"alphabetic"},
   "encoding":{"x":{"datum":28.0236,"title":null},"y":{"datum":7.77,"title":"Intensity (norm.)"}}},
  {"data":{"values":[{}]},"mark":{"type":"text","text":"f","fontSize":17,"fontStyle":"italic","align":"left","baseline":"alphabetic"},
   "encoding":{"x":{"datum":28.0093,"title":null},"y":{"datum":-1.659,"title":"Intensity (norm.)"}}},
  {"data":{"values":[{}]},"mark":{"type":"text","text":"RF","fontSize":11,"align":"left","baseline":"alphabetic"},
   "encoding":{"x":{"datum":28.0106,"title":null},"y":{"datum":-1.716,"title":"Intensity (norm.)"}}},
  {"data":{"values":[{}]},"mark":{"type":"text","text":"(MHz)","fontSize":15,"align":"left","baseline":"alphabetic"},
   "encoding":{"x":{"datum":28.0148,"title":null},"y":{"datum":-1.659,"title":"Intensity (norm.)"}}}
 ]}
]
}
